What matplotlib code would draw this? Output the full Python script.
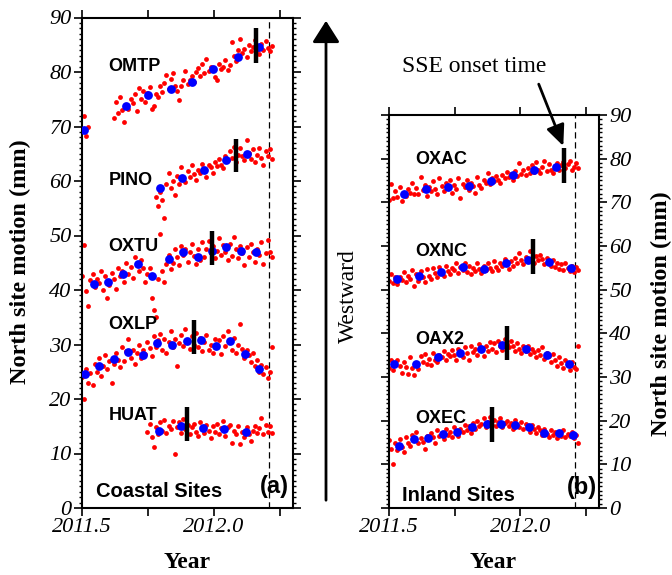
import numpy as np
import matplotlib
matplotlib.use("Agg")
import matplotlib.pyplot as plt
from matplotlib.ticker import MultipleLocator, FixedLocator, FixedFormatter

# ---------------- data ----------------
t = [2011.500, 2011.508, 2011.516, 2011.524, 2011.532, 2011.540, 2011.548, 2011.556, 2011.564, 2011.572,
     2011.580, 2011.588, 2011.596, 2011.604, 2011.612, 2011.620, 2011.628, 2011.636, 2011.644, 2011.652,
     2011.660, 2011.668, 2011.676, 2011.684, 2011.692, 2011.700, 2011.708, 2011.716, 2011.724, 2011.732,
     2011.740, 2011.748, 2011.756, 2011.764, 2011.772, 2011.780, 2011.788, 2011.796, 2011.804, 2011.812,
     2011.820, 2011.828, 2011.836, 2011.844, 2011.852, 2011.860, 2011.868, 2011.876, 2011.884, 2011.892,
     2011.900, 2011.908, 2011.916, 2011.924, 2011.932, 2011.940, 2011.948, 2011.956, 2011.964, 2011.972,
     2011.980, 2011.988, 2011.996, 2012.004, 2012.012, 2012.020, 2012.028, 2012.036, 2012.044, 2012.052,
     2012.060, 2012.068, 2012.076, 2012.084, 2012.092, 2012.100, 2012.108, 2012.116, 2012.124, 2012.132,
     2012.140, 2012.148, 2012.156, 2012.164, 2012.172, 2012.180, 2012.188, 2012.196, 2012.204, 2012.212,
     2012.220]
N = None

omtp_red = [69.5, 72.0, 68.3, 70.0, N, N, N, N, N, N, N, N, N, N, N,
            71.5, 74.5, 72.5, 75.5, 73.0, 70.8, 74.0, 73.2, 75.0, 74.3,
            76.0, 72.8, 77.0, 75.0, 76.5, 74.5, 76.2, 77.2, 73.2, 73.8,
            76.0, 75.5, 77.5, 76.3, 78.0, 79.5, 76.8, 78.8, 79.8, 77.5,
            76.5, 74.8, 77.5, 78.5, 80.2, 77.8, 78.5, 79.2, 78.2, 80.0,
            80.8, 79.2, 81.5, 79.8, 82.3, 80.2, 81.0, 80.5, 79.0, 78.5,
            81.5, 80.5, 81.0, 82.2, 80.3, 81.2, 85.5, 83.0, 82.0, 84.0,
            86.0, 83.5, 84.2, 82.8, 85.0, 83.8, 84.5, 85.8, 84.0, 83.3,
            85.2, 84.0, 85.6, 84.4, 83.8, 84.8]
pino_red = [N] * 35 + [
            57.0, 55.5, 58.0, 56.5, 53.3, 59.5, 61.5, 58.8, 60.0, 57.5,
            61.0, 59.5, 62.5, 60.5, 59.8, 61.8, 60.8, 63.0, 61.3, 60.2,
            62.0, 61.5, 63.2, 62.2, 60.8, 63.0, 62.5, 61.5, 63.5, 62.8,
            64.0, 63.0, 62.3, 64.5, 63.8, 65.5, 64.2, 66.3, 63.5, 64.8,
            66.0, 64.5, 63.8, 67.5, 65.2, 64.0, 65.8, 63.5, 64.8, 66.0,
            64.2, 63.0, 65.5, 64.5, 65.8, 64.0]
oxtu_red = [42.5, 48.2, 39.8, 37.0, 41.8, 43.0, 40.5, 42.0, 41.2, 43.5,
            40.0, 42.5, 38.5, 41.0, 43.2, 42.0, 40.2, 44.0, 42.5, 43.5,
            41.5, 45.0, 43.0, 44.3, 42.2, 46.0, 44.5, 43.5, 45.5, 44.0,
            41.5, 43.0, 44.0, 38.5, 36.3, 35.0, 42.0, 50.3, 43.5, 41.5,
            44.8, 46.5, 43.8, 45.0, 47.5, 46.0, 44.5, 48.0, 46.5, 47.5,
            45.2, 47.0, 48.5, 46.2, 44.8, 47.5, 45.5, 48.8, 46.0, 47.5,
            49.0, 46.8, 48.0, 45.8, 47.2, 49.5, 46.5, 48.2, 47.0, 45.5,
            48.5, 46.2, 49.8, 47.5, 45.8, 48.0, 46.8, 44.5, 47.8, 46.0,
            48.5, 47.0, 45.2, 47.5, 46.5, 48.8, 44.8, 46.8, 49.2, 47.0,
            46.0]
oxlp_red = [24.0, 20.0, 25.5, 23.0, 24.8, 22.5, 26.5, 25.0, 27.5, 24.2,
            26.0, 28.0, 25.5, 27.0, 23.0, 26.5, 28.5, 27.2, 25.8, 29.5,
            27.0, 28.8, 31.0, 27.5, 29.0, 26.5, 28.5, 30.0, 27.5, 29.0,
            28.2, 30.5, 29.3, 27.8, 31.5, 29.5, 30.8, 32.0, 29.0, 31.0,
            28.5, 30.5, 32.5, 29.5, 31.0, 26.0, 30.2, 31.8, 29.8, 32.8,
            30.5, 29.2, 31.5, 30.0, 32.2, 29.5, 31.2, 28.8, 30.5, 31.8,
            29.0, 30.0, 28.5, 31.0, 29.5, 30.8, 28.2, 31.5, 29.8, 32.5,
            30.5, 29.0, 31.2, 28.5, 30.0, 33.8, 29.2, 27.5, 29.0, 28.0,
            26.8, 28.5, 26.0, 27.2, 25.0, 26.2, 24.5, 25.8, 23.8, 25.0,
            29.5]
huat_red = [N] * 31 + [
            14.0, 15.5, 13.0, 11.2, 14.8, 13.5, 15.8, 14.2, 16.2, 13.8,
            15.0, 14.5, 16.0, 10.0, 14.8, 15.8, 13.8, 16.3, 14.5, 15.2,
            13.5, 14.8, 15.5, 14.0, 13.2, 15.8, 14.5, 13.8, 15.2, 14.2,
            12.8, 15.0, 14.0, 15.5, 13.5, 14.6, 16.0, 13.2, 14.8, 15.3,
            12.0, 14.2, 13.5, 15.0, 11.8, 14.0, 13.0, 14.8, 13.5, 12.3,
            14.2, 15.0, 13.8, 14.6, 16.5, 13.5, 15.2, 14.0, 15.0, 13.8]

oxac_red = [70.5, 74.2, 71.0, 72.5, 71.2, 73.5, 70.2, 72.0, 71.5, 73.0,
            72.2, 74.5, 71.8, 73.2, 72.0, 75.8, 72.8, 74.0, 71.5, 73.5,
            72.5, 74.8, 73.0, 71.8, 75.5, 73.8, 72.5, 74.5, 73.2, 75.2,
            72.2, 74.0, 73.0, 75.5, 71.0, 74.2, 73.5, 75.0, 72.8, 74.5,
            73.8, 72.2, 75.8, 74.0, 73.2, 75.0, 74.5, 76.8, 74.2, 75.5,
            74.8, 76.0, 75.2, 74.5, 76.2, 75.5, 77.0, 75.8, 76.5, 75.2,
            77.2, 76.0, 79.0, 76.5, 77.5, 76.2, 77.8, 76.8, 78.5, 77.0,
            79.2, 77.5, 76.8, 78.2, 79.5, 77.2, 78.8, 77.5, 76.8, 78.2,
            79.0, 77.5, 78.5, 79.2, 77.8, 78.8, 79.5, 77.5, 78.2, 79.0,
            77.8]
oxnc_red = [52.0, 53.5, 51.5, 52.8, 51.2, 53.0, 52.2, 54.0, 51.8, 53.2,
            52.5, 54.5, 50.8, 53.5, 52.0, 54.2, 53.0, 51.8, 54.8, 53.2,
            52.5, 55.0, 53.8, 52.8, 55.2, 54.0, 53.2, 55.5, 54.2, 53.5,
            55.0, 54.5, 56.0, 53.8, 55.2, 54.5, 56.2, 54.0, 55.5, 53.5,
            55.0, 54.2, 56.0, 54.8, 53.8, 55.5, 54.5, 56.2, 55.0, 54.2,
            56.5, 55.2, 54.5, 56.0, 55.5, 57.0, 55.8, 54.8, 56.5, 55.5,
            57.2, 56.0, 58.5, 56.8, 55.8, 57.5, 56.5, 58.8, 57.2, 56.2,
            57.8, 56.8, 58.0, 57.0, 55.8, 57.2, 56.5, 55.5, 56.8, 55.2,
            56.0, 54.8, 55.8, 54.5, 56.2, 55.0, 54.2, 55.5, 54.0, 55.2,
            54.5]
oax2_red = [32.0, 33.8, 31.5, 33.2, 34.0, 32.5, 31.0, 33.5, 32.2, 30.8,
            34.5, 32.0, 30.5, 33.0, 31.8, 34.8, 33.5, 35.2, 33.0, 34.2,
            32.8, 35.5, 34.0, 33.5, 35.0, 34.5, 36.0, 33.8, 35.2, 34.8,
            36.2, 35.0, 33.8, 36.5, 35.2, 34.5, 36.8, 35.5, 34.0, 37.2,
            35.8, 36.5, 35.0, 37.5, 36.2, 34.8, 37.0, 36.0, 38.0, 36.5,
            37.8, 35.8, 38.2, 37.0, 36.2, 38.8, 37.5, 36.8, 38.2, 37.0,
            36.0, 37.8, 36.5, 35.5, 37.2, 36.0, 37.0, 35.2, 36.5, 35.8,
            34.5, 36.2, 35.0, 36.8, 34.2, 35.5, 34.8, 33.5, 35.2, 34.0,
            32.5, 34.5, 33.2, 32.0, 33.8, 32.8, 31.5, 33.5, 32.2, 31.8,
            37.0]
oxec_red = [15.5, 13.5, 10.0, 14.8, 13.2, 15.8, 14.0, 12.8, 16.2, 15.0,
            14.2, 16.8, 15.5, 17.5, 14.8, 16.0, 15.2, 13.5, 16.5, 15.8,
            17.2, 16.2, 15.0, 17.8, 16.5, 17.0, 15.8, 18.0, 16.8, 17.5,
            16.2, 18.5, 17.2, 16.5, 18.2, 17.5, 19.0, 17.8, 18.8, 17.2,
            19.5, 18.2, 20.0, 18.8, 19.2, 20.5, 18.5, 19.8, 20.8, 19.0,
            20.2, 18.8, 19.8, 20.5, 18.5, 19.5, 20.0, 18.8, 19.5, 18.2,
            20.2, 19.0, 18.5, 19.8, 18.0, 19.2, 18.5, 17.5, 19.0, 18.2,
            17.2, 18.5, 17.8, 16.8, 18.0, 17.0, 16.2, 17.8, 16.8, 17.5,
            16.0, 17.2, 16.5, 17.8, 16.2, 17.0, 16.5, 17.5, 16.0, 16.8,
            15.0]

# blue (averaged) points
omtp_bt = [2011.508, 2011.667, 2011.751, 2011.836, 2011.917, 2011.996, 2012.090, 2012.170]
omtp_bv = [69.4, 73.7, 75.7, 76.8, 78.2, 80.5, 82.8, 84.6]
pino_bt = [2011.796, 2011.879, 2011.963, 2012.045, 2012.127]
pino_bv = [58.7, 60.5, 62.0, 63.8, 65.0]
oxtu_bt = [2011.545, 2011.600, 2011.656, 2011.711, 2011.767, 2011.828, 2011.883, 2011.939,
           2011.991, 2012.047, 2012.103, 2012.158]
oxtu_bv = [41.1, 41.5, 42.9, 44.7, 42.6, 45.6, 47.0, 46.1, 47.2, 47.8, 47.1, 46.9]
oxlp_bt = [2011.510, 2011.566, 2011.620, 2011.676, 2011.732, 2011.786, 2011.842, 2011.897,
           2011.952, 2012.008, 2012.062, 2012.117, 2012.170]
oxlp_bv = [24.6, 26.1, 27.3, 28.7, 28.0, 30.2, 29.9, 30.7, 30.8, 29.7, 30.7, 28.2, 25.5]
huat_bt = [2011.791, 2011.874, 2011.957, 2012.040, 2012.122]
huat_bv = [14.2, 15.1, 14.6, 14.5, 13.9]

oxac_bt = [2011.556, 2011.640, 2011.723, 2011.805, 2011.888, 2011.971, 2012.052, 2012.136]
oxac_bv = [72.0, 73.0, 73.6, 73.7, 74.9, 76.3, 77.4, 78.2]
oxnc_bt = [2011.532, 2011.615, 2011.697, 2011.780, 2011.863, 2011.945, 2012.028, 2012.111, 2012.192]
oxnc_bv = [52.5, 53.2, 54.0, 55.1, 54.8, 56.1, 56.9, 56.3, 54.9]
oax2_bt = [2011.520, 2011.604, 2011.686, 2011.770, 2011.850, 2011.932, 2012.020, 2012.103, 2012.185]
oax2_bv = [32.9, 33.0, 34.6, 35.5, 36.4, 37.4, 36.3, 35.1, 33.0]
oxec_bt = [2011.537, 2011.597, 2011.650, 2011.707, 2011.760, 2011.817, 2011.874, 2011.927,
           2011.980, 2012.035, 2012.092, 2012.146, 2012.200]
oxec_bv = [14.2, 15.9, 16.0, 16.9, 17.5, 18.5, 19.3, 19.2, 19.0, 18.6, 17.2, 17.2, 16.8]

# SSE onset bars: time, low, high
coastal_names = ["OMTP", "PINO", "OXTU", "OXLP", "HUAT"]
coastal_label_y = [81.0, 60.1, 48.0, 33.6, 17.0]
coastal_onset_t = [2012.158, 2012.084, 2011.992, 2011.925, 2011.897]
coastal_onset_lo = [81.6, 61.6, 44.5, 28.3, 12.3]
coastal_onset_hi = [88.0, 67.7, 50.8, 34.5, 18.6]

inland_names = ["OXAC", "OXNC", "OAX2", "OXEC"]
inland_label_y = [79.7, 58.7, 38.5, 20.6]
inland_onset_t = [2012.168, 2012.048, 2011.949, 2011.893]
inland_onset_lo = [74.4, 53.7, 33.9, 15.2]
inland_onset_hi = [82.4, 61.6, 41.7, 23.2]

end_time = 2012.21
xticks = [2011.5, 2011.75, 2012.0, 2012.25]
xticklabels = ["2011.5", "", "2012.0", ""]

coastal_red = [omtp_red, pino_red, oxtu_red, oxlp_red, huat_red]
coastal_blue = [(omtp_bt, omtp_bv), (pino_bt, pino_bv), (oxtu_bt, oxtu_bv),
                (oxlp_bt, oxlp_bv), (huat_bt, huat_bv)]
inland_red = [oxac_red, oxnc_red, oax2_red, oxec_red]
inland_blue = [(oxac_bt, oxac_bv), (oxnc_bt, oxnc_bv), (oax2_bt, oax2_bv), (oxec_bt, oxec_bv)]

# ---------------- figure ----------------
SERIF = ["Liberation Serif", "DejaVu Serif"]
SANS = ["Liberation Sans", "DejaVu Sans"]
plt.rcParams["font.family"] = SERIF

W, H = 672, 575
fig = plt.figure(figsize=(W / 100, H / 100), dpi=100)

axa = fig.add_axes([82 / W, (H - 508) / H, (293 - 82) / W, (508 - 17.5) / H])
axb = fig.add_axes([389 / W, (H - 508) / H, (599 - 389) / W, (508 - 115) / H])

tarr = np.array(t, dtype=float)


def draw_panel(ax, reds, blues, names, label_y, ot, olo, ohi):
    for r in reds:
        ax.scatter(tarr, np.array(r, dtype=float), s=12, color="#ff0000", lw=0, zorder=2)
    for bt, bv in blues:
        ax.scatter(bt, bv, s=40, color="#0000ff", lw=0, zorder=3)
    ax.vlines(ot, olo, ohi, color="black", lw=3.2, zorder=4)
    for nm, yy in zip(names, label_y):
        ax.text(2011.60, yy, nm, family=SANS, fontweight="bold", fontsize=13,
                ha="left", va="center", zorder=5)
    ax.axvline(end_time, color="black", lw=0.9, ls=(0, (5, 3)), zorder=1)
    ax.set_xlim(2011.5, 2012.30)
    ax.set_ylim(0, 90)
    ax.xaxis.set_major_locator(FixedLocator(xticks))
    ax.xaxis.set_major_formatter(FixedFormatter(xticklabels))
    ax.yaxis.set_major_locator(MultipleLocator(10))
    ax.yaxis.set_minor_locator(MultipleLocator(1))
    ax.tick_params(axis="both", which="major", direction="out", length=5.5, width=1.2,
                   labelsize=16, pad=2)
    ax.tick_params(axis="y", which="minor", direction="out", length=2.5, width=1.0)
    ax.tick_params(axis="x", which="both", top=True, bottom=True)
    ax.tick_params(axis="y", which="both", left=True, right=True)
    for lab in ax.get_xticklabels() + ax.get_yticklabels():
        lab.set_fontstyle("italic")
    for sp in ax.spines.values():
        sp.set_linewidth(1.5)


draw_panel(axa, coastal_red, coastal_blue, coastal_names, coastal_label_y,
           coastal_onset_t, coastal_onset_lo, coastal_onset_hi)
draw_panel(axb, inland_red, inland_blue, inland_names, inland_label_y,
           inland_onset_t, inland_onset_lo, inland_onset_hi)
axb.tick_params(axis="y", which="both", labelleft=False, labelright=True)
for lab in axb.get_yticklabels():
    lab.set_fontstyle("italic")

axa.text(2011.553, 3.0, "Coastal Sites", family=SANS, fontweight="bold", fontsize=14.5,
         ha="left", va="center")
axa.text(2012.284, 3.9, "(a)", family=SANS, fontweight="bold", fontsize=17,
         ha="right", va="center")
axb.text(2011.550, 2.8, "Inland Sites", family=SANS, fontweight="bold", fontsize=14.5,
         ha="left", va="center")
axb.text(2012.294, 4.6, "(b)", family=SANS, fontweight="bold", fontsize=17,
         ha="right", va="center")

# axis titles
fig.text(20 / W, 1 - 262 / H, "North site motion (mm)", rotation=90, ha="center", va="center",
         fontsize=17.5, fontweight="bold")
fig.text(661 / W, 1 - 314 / H, "North site motion (mm)", rotation=90, ha="center", va="center",
         fontsize=17.5, fontweight="bold")
fig.text(187 / W, 1 - 562 / H, "Year", ha="center", va="center", fontsize=17, fontweight="bold")
fig.text(493 / W, 1 - 563 / H, "Year", ha="center", va="center", fontsize=17, fontweight="bold")

# westward arrow
fig.add_artist(matplotlib.patches.FancyArrowPatch(
    (326 / W, 1 - 503 / H), (326 / W, 1 - 18 / H), transform=fig.transFigure,
    arrowstyle="-|>,head_length=6,head_width=3.8", color="black", lw=2.0,
    mutation_scale=2.2))
fig.text(348 / W, 1 - 296 / H, "Westward", rotation=90, ha="center", va="center", fontsize=17)

# SSE onset annotation
axb.annotate("SSE onset time", xy=(2012.164, 82.9), xycoords="data",
             xytext=(474 / W, 1 - 67 / H), textcoords="figure fraction",
             ha="center", va="center", fontsize=17,
             arrowprops=dict(arrowstyle="-|>,head_length=0.9,head_width=0.4", color="black",
                             lw=2.0, relpos=(0.93, 0.0), shrinkA=3, shrinkB=0,
                             mutation_scale=14))

fig.savefig("out.png", dpi=100)
